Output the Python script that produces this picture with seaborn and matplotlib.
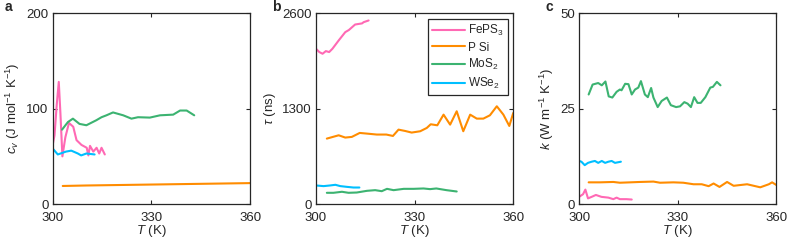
import numpy as np
import pandas as pd
import matplotlib.pyplot as plt
import seaborn as sns

# -----------------------------------------------------------------------------
# Data
# -----------------------------------------------------------------------------
MATERIALS = ["FePS3", "P Si", "MoS2", "WSe2"]
LABELS = ["FePS$_3$", "P Si", "MoS$_2$", "WSe$_2$"]
COLORS = ["#ff69b4", "#ff8c00", "#3cb371", "#00bfff"]

# panel a : heat capacity c_v
cv_feps3_T = [300.0, 300.5, 301.2, 301.8, 302.3, 302.9, 303.8, 304.9, 306.2, 307.2, 308.7,
              310.3, 310.8, 311.3, 312.3, 313.3, 314.1, 314.8, 315.8]
cv_feps3 = [63, 72, 105, 128, 95, 50, 70, 85, 81, 67, 62, 59, 51, 61, 55, 59, 53, 59, 52]
cv_psi_T = [303, 310, 320, 330, 340, 350, 360]
cv_psi = [19, 19.5, 20, 20.5, 21, 21.5, 22]
cv_mos2_T = [302.8, 304.6, 306.1, 308.1, 310.2, 313.2, 314.8, 316.3, 318.3, 321.4, 323.9,
             325.9, 329.5, 332.6, 336.6, 338.7, 340.7, 343.0]
cv_mos2 = [78, 86, 89.5, 84, 82.6, 87.8, 91, 93, 96, 93, 89.5, 91, 90.6, 93, 93.7, 98, 98, 93]
cv_wse2_T = [300, 301.5, 304, 305.6, 307.6, 308.6, 310.2, 312.7]
cv_wse2 = [58, 52, 55, 56, 53, 51, 53, 52]

# panel b : lifetime tau
tau_feps3_T = [300, 301, 302, 303, 304, 305, 306.9, 308.9, 310, 311.9, 314, 314.5, 316]
tau_feps3 = [2115, 2070, 2047, 2083, 2070, 2115, 2228, 2341, 2370, 2445, 2460, 2477, 2500]
tau_psi_T = [303.3, 306.9, 308.9, 310.9, 313.3, 315.5, 318.5, 321.4, 323.4, 325.1, 327.1,
             329.1, 331.7, 333.7, 334.9, 336.9, 338.8, 340.8, 342.8, 344.8, 346.9, 348.9,
             350.9, 352.9, 355.0, 357.0, 358.8, 360.0]
tau_psi = [892, 937, 906, 915, 969, 960, 947, 947, 928, 1014, 996, 974, 992, 1037, 1087,
           1073, 1218, 1082, 1264, 992, 1218, 1164, 1164, 1209, 1332, 1218, 1064, 1241]
tau_mos2_T = [303.3, 305.3, 307.9, 309.9, 312.4, 315.5, 318.0, 320.0, 321.6, 323.6, 326.7,
              329.7, 332.7, 334.7, 336.6, 339.7, 342.8]
tau_mos2 = [154, 154, 168, 154, 158, 181, 190, 176, 208, 190, 208, 208, 213, 204, 213, 190, 172]
tau_wse2_T = [300, 302.3, 304.3, 305.9, 307.4, 309.4, 311.4, 313.2]
tau_wse2 = [254, 245, 254, 263, 245, 235, 226, 226]

# panel c : thermal conductivity k
k_feps3_T = [300, 301.2, 301.9, 302.7, 303.8, 305.1, 306.8, 308.9, 310.4, 311.4, 312.4, 314.4, 316]
k_feps3 = [1.9, 2.6, 3.8, 1.5, 1.9, 2.4, 1.9, 1.7, 1.3, 1.7, 1.3, 1.3, 1.2]
k_psi_T = [302.9, 306.3, 310.4, 312.4, 315.5, 318.5, 322.6, 324.6, 328.7, 331.7, 334.8,
           337.3, 339.4, 340.9, 342.7, 345.0, 347.0, 351.1, 353.1, 355.1, 357.7, 358.7, 360.0]
k_psi = [5.7, 5.7, 5.8, 5.6, 5.7, 5.8, 5.9, 5.6, 5.7, 5.6, 5.2, 5.2, 4.7, 5.4, 4.5, 5.8,
         4.8, 5.2, 4.8, 4.4, 5.2, 5.7, 5.0]
k_mos2_T = [302.9, 304.1, 305.8, 306.9, 308.0, 309.0, 310.1, 311.4, 312.4, 312.9, 314.0,
            315.0, 316.0, 317.0, 318.0, 318.8, 320.0, 320.9, 321.9, 322.6, 323.9, 325.1,
            326.7, 327.9, 329.5, 330.7, 332.0, 333.0, 334.0, 335.0, 336.0, 337.0, 338.4,
            339.9, 340.7, 341.9, 343.0]
k_mos2 = [28.7, 31.3, 31.7, 31.1, 32.1, 28.2, 27.9, 29.4, 30.0, 29.8, 31.5, 31.4, 28.7,
          30.0, 30.5, 32.2, 28.7, 28.0, 30.4, 27.9, 25.4, 27.0, 27.9, 25.9, 25.4, 25.6,
          26.7, 26.3, 25.4, 28.0, 26.5, 26.5, 28.0, 30.5, 30.7, 32.0, 31.1]
k_wse2_T = [300, 300.7, 301.7, 302.7, 303.8, 304.8, 305.8, 306.9, 307.9, 308.9, 309.9, 310.9, 312.7]
k_wse2 = [11.3, 11.1, 10.2, 10.8, 11.1, 11.3, 10.8, 11.3, 10.8, 11.1, 11.3, 10.8, 11.1]


def to_frame(series):
    frames = []
    for name, (T, y) in zip(MATERIALS, series):
        frames.append(pd.DataFrame({"T": T, "y": y, "material": name}))
    return pd.concat(frames, ignore_index=True)


panels = [
    {"tag": "a", "tag_x": 5,
     "df": to_frame([(cv_feps3_T, cv_feps3), (cv_psi_T, cv_psi),
                     (cv_mos2_T, cv_mos2), (cv_wse2_T, cv_wse2)]),
     "ylim": (0, 200), "yticks": [0, 100, 200],
     "ylabel": r"$c_v$ (J mol$^{-1}$ K$^{-1}$)"},
    {"tag": "b", "tag_x": 272,
     "df": to_frame([(tau_feps3_T, tau_feps3), (tau_psi_T, tau_psi),
                     (tau_mos2_T, tau_mos2), (tau_wse2_T, tau_wse2)]),
     "ylim": (0, 2600), "yticks": [0, 1300, 2600],
     "ylabel": r"$\tau$ (ns)"},
    {"tag": "c", "tag_x": 545,
     "df": to_frame([(k_feps3_T, k_feps3), (k_psi_T, k_psi),
                     (k_mos2_T, k_mos2), (k_wse2_T, k_wse2)]),
     "ylim": (0, 50), "yticks": [0, 25, 50],
     "ylabel": r"$k$ (W m$^{-1}$ K$^{-1}$)"},
]

# -----------------------------------------------------------------------------
# Style
# -----------------------------------------------------------------------------
sns.set_style("ticks")
plt.rcParams["font.family"] = ["Liberation Sans", "DejaVu Sans"]
plt.rcParams["mathtext.fontset"] = "custom"
plt.rcParams["mathtext.rm"] = "Liberation Sans"
plt.rcParams["mathtext.it"] = "Liberation Sans:italic"
plt.rcParams["mathtext.bf"] = "Liberation Sans:bold"

EDGE = "#262626"
palette = dict(zip(MATERIALS, COLORS))

fig = plt.figure(figsize=(7.89, 2.43), dpi=100)
lefts = [0.067, 0.4005, 0.734]

for left, p in zip(lefts, panels):
    ax = fig.add_axes([left, 0.16, 0.25, 0.786])
    sns.lineplot(data=p["df"], x="T", y="y", hue="material", palette=palette,
                 sort=False, estimator=None, lw=1.5, legend=False, ax=ax)

    ax.set_xlim(300, 360)
    ax.set_ylim(*p["ylim"])
    ax.set_xticks([300, 330, 360])
    ax.set_yticks(p["yticks"])
    ax.tick_params(direction="in", top=True, right=True, length=3,
                   labelsize=9.5, colors=EDGE)
    ax.tick_params(axis="x", pad=6)
    ax.tick_params(axis="y", pad=3)
    for s in ax.spines.values():
        s.set_visible(True)
        s.set_color(EDGE)
        s.set_linewidth(0.9)
    ax.set_xlabel(r"$T$ (K)", fontsize=9.5, color=EDGE, labelpad=-1)
    ax.set_ylabel(p["ylabel"], fontsize=9.5, color=EDGE, labelpad=3)
    fig.text(p["tag_x"] / 789, 1 - 7 / 243, p["tag"], fontsize=10,
             fontweight="bold", va="center", ha="left")

    if p["tag"] == "b":
        handles = [plt.Line2D([], [], color=c, lw=1.5) for c in COLORS]
        leg = ax.legend(handles, LABELS, loc="upper right", fontsize=8.5,
                        handlelength=2.8, handletextpad=0.3, labelspacing=0.3,
                        borderpad=0.35, borderaxespad=0, fancybox=False,
                        framealpha=1, bbox_to_anchor=(0.975, 0.97))
        leg.get_frame().set_edgecolor(EDGE)
        leg.get_frame().set_linewidth(0.9)

fig.savefig("out.png", dpi=100)
